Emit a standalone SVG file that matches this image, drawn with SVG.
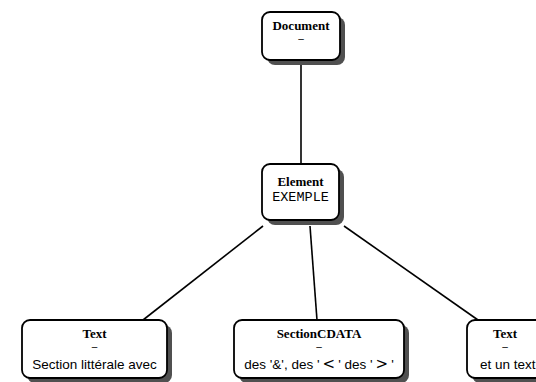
<svg xmlns="http://www.w3.org/2000/svg" width="536" height="382" viewBox="0 0 536 382">
<style>
.sh{fill:#505050}
.bx{fill:#fff;stroke:#000;stroke-width:1.8}
.t{font-family:"Liberation Serif",serif;font-weight:bold;font-size:13px;text-anchor:middle}
.d{font-family:"Liberation Sans",sans-serif;font-size:10px;text-anchor:middle}
.v{font-family:"Liberation Sans",sans-serif;font-size:13.5px;text-anchor:middle}
.m{font-family:"Liberation Mono",monospace;font-size:13.5px;text-anchor:middle}
.s{font-family:"DejaVu Sans",sans-serif;font-size:15px}
.c{stroke:#000;stroke-width:1.6;fill:none}
</style>
<rect width="536" height="382" fill="#fff"/>
<g id="connectors">
<line class="c" x1="301" y1="62" x2="301" y2="164"/>
<line class="c" x1="263" y1="226" x2="143" y2="320"/>
<line class="c" x1="310" y1="226" x2="317" y2="320"/>
<line class="c" x1="344" y1="226" x2="478" y2="320"/>
</g>
<g id="document">
<rect class="sh" x="267" y="17" width="78" height="48" rx="8"/>
<rect class="bx" x="262" y="12" width="78" height="48" rx="8"/>
<text class="t" x="301" y="30">Document</text>
<text class="d" x="301" y="42">–</text>
</g>
<g id="element">
<rect class="sh" x="267" y="169" width="77" height="56" rx="8"/>
<rect class="bx" x="262" y="164" width="77" height="56" rx="8"/>
<text class="t" x="300.5" y="186">Element</text>
<text class="m" x="300.5" y="201">EXEMPLE</text>
</g>
<g id="text1">
<rect class="sh" x="27" y="325" width="145" height="58" rx="8"/>
<rect class="bx" x="22" y="320" width="145" height="58" rx="8"/>
<text class="t" x="94.5" y="338">Text</text>
<text class="d" x="94.5" y="350">–</text>
<text class="v" x="94.5" y="369">Section littérale avec</text>
</g>
<g id="cdata">
<rect class="sh" x="239" y="325" width="170" height="58" rx="8"/>
<rect class="bx" x="234" y="320" width="170" height="58" rx="8"/>
<text class="t" x="319" y="338">SectionCDATA</text>
<text class="d" x="319" y="350">–</text>
<text class="v" x="319" y="369">des '&amp;', des '<tspan class="s" dx="3">&lt;</tspan><tspan dx="3">' des '</tspan><tspan class="s" dx="3">&gt;</tspan><tspan dx="3">'</tspan></text>
</g>
<g id="text3">
<rect class="sh" x="472" y="325" width="90" height="58" rx="8"/>
<rect class="bx" x="467" y="320" width="90" height="58" rx="8"/>
<text class="t" x="505" y="338">Text</text>
<text class="d" x="505" y="350">–</text>
<text class="v" x="480" y="369" style="text-anchor:start">et un text</text>
</g>
</svg>
